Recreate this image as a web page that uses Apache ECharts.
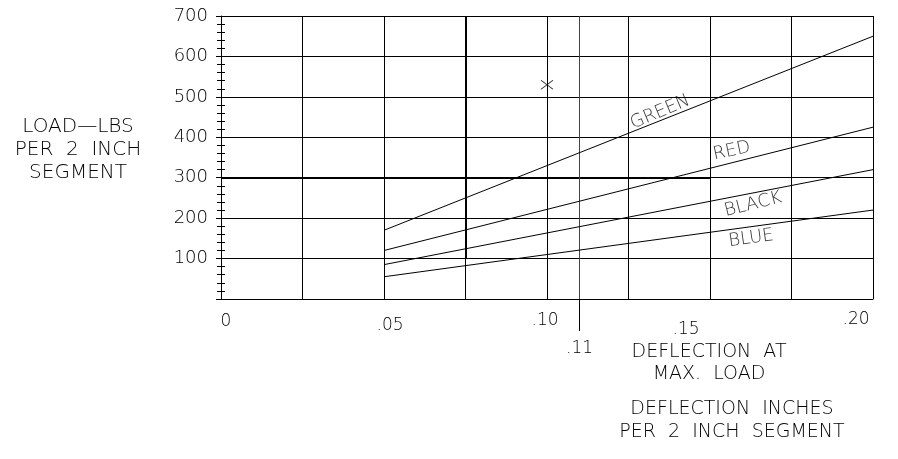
<!DOCTYPE html>
<html><head><meta charset="utf-8">
<script src="https://cdn.jsdelivr.net/npm/echarts@6/dist/echarts.min.js"></script>
<style>html,body{margin:0;padding:0;background:#fff}#c{width:898px;height:459px}</style>
</head><body><div id="c"></div>
<script>
// ---- data ----
const lineNames = ['GREEN', 'RED', 'BLACK', 'BLUE'];
const xRange = [0.05, 0.20];
const greenLoad = [170, 650];
const redLoad = [120, 425];
const blackLoad = [85, 320];
const blueLoad = [55, 220];
const markerPoint = [0.10, 530];
const deflectionAtMax = 0.11;
const xTickLabels = { 0: '0', 50: '.05', 100: '.10', 150: '.15', 200: '.20' };
const yTickLabels = ['100', '200', '300', '400', '500', '600', '700'];
const nameAnchors = [[0.1347, 462], [0.1567, 366], [0.1632, 234], [0.1626, 150]];

const FONT = 'DejaVu Sans';
const FW = 200;
const black = '#000';

function pairs(vals) { return [[xRange[0], vals[0]], [xRange[1], vals[1]]]; }
const loads = [greenLoad, redLoad, blackLoad, blueLoad];
const nameAngles = [23, 12, 14, 8];

const chart = echarts.init(document.getElementById('c'), null, { renderer: 'canvas' });

const lineSeries = loads.map((v, i) => ({
  name: lineNames[i], type: 'line', data: pairs(v), symbol: 'none',
  lineStyle: { color: black, width: 1 }, silent: true, animation: false, z: 5
}));

function rs(pad) { return { fontFamily: FONT, fontWeight: FW, fontSize: 17, color: black, padding: pad }; }

const option = {
  animation: false,
  backgroundColor: '#fff',
  grid: { left: 221, right: 25, top: 16, bottom: 160, containLabel: false },
  xAxis: [{
    type: 'value', min: 0, max: 0.2, interval: 0.025,
    axisLine: { show: true, onZero: false, lineStyle: { color: black, width: 1 } },
    axisTick: { show: false },
    splitLine: { show: true, lineStyle: { color: black, width: 1 } },
    axisLabel: {
      margin: 12, fontFamily: FONT, fontWeight: FW, fontSize: 17, color: black,
      formatter: v => {
        const k = Math.round(v * 1000);
        return xTickLabels[k] !== undefined ? '{l' + k + '|' + xTickLabels[k] + '}' : '';
      },
      rich: {
        l0: rs([2, 0, 0, 10]),
        l50: rs([6, 0, 0, 12]),
        l100: rs([1, 4, 0, 0]),
        l150: rs([10, 48, 0, 0]),
        l200: rs([0, 34, 0, 0])
      }
    }
  }, {
    type: 'value', min: 0, max: 0.2, position: 'bottom',
    axisLine: { show: false },
    splitLine: { show: false },
    axisTick: { show: true, customValues: [deflectionAtMax], length: 32, lineStyle: { color: black, width: 1 } },
    axisLabel: { show: true, customValues: [deflectionAtMax], formatter: () => '.11', margin: 41, fontFamily: FONT, fontWeight: FW, fontSize: 17, color: black }
  }],
  yAxis: [{
    type: 'value', min: 0, max: 700, interval: 100,
    axisLine: { show: true, onZero: false, lineStyle: { color: black, width: 1 } },
    axisTick: { show: true, length: 5, lineStyle: { color: black } },
    minorTick: { show: true, splitNumber: 5, length: 4, lineStyle: { color: black } },
    splitLine: { show: true, lineStyle: { color: black, width: 1 } },
    axisLabel: {
      margin: 13, fontFamily: FONT, fontWeight: FW, fontSize: 18, color: black,
      formatter: v => { const s = String(Math.round(v)); return yTickLabels.includes(s) ? s : ''; }
    }
  }, {
    type: 'value', min: 0, max: 700, interval: 100, position: 'left',
    axisLine: { show: false },
    axisTick: { show: true, inside: true, length: 4, lineStyle: { color: black } },
    minorTick: { show: true, splitNumber: 5, length: 4, lineStyle: { color: black } },
    splitLine: { show: false },
    axisLabel: { show: false }
  }],
  series: [
    ...lineSeries,
    {
      type: 'line', data: [], silent: true, clip: false,
      markLine: {
        silent: true, symbol: 'none', animation: false,
        label: { show: false },
        data: [
          [{ coord: [0, 300], lineStyle: { color: black, width: 2, type: 'solid' } }, { coord: [0.15, 300] }],
          [{ coord: [0.075, 100], lineStyle: { color: black, width: 2, type: 'solid' } }, { coord: [0.075, 700] }],
          [{ coord: [deflectionAtMax, 0], lineStyle: { color: '#444', width: 1, type: 'solid' } }, { coord: [deflectionAtMax, 700] }]
        ]
      }
    },
    {
      type: 'scatter', data: [markerPoint], silent: true,
      symbol: 'path://M0,0L10,8M10,0L0,8', symbolSize: [12, 9],
      itemStyle: { color: 'none', borderColor: black, borderWidth: 1 }, z: 6
    },
    {
      type: 'scatter', silent: true, symbolSize: 0, z: 7,
      data: nameAnchors.map((p, i) => ({
        value: p,
        label: { show: true, position: 'inside', rotate: nameAngles[i], formatter: lineNames[i],
                 fontFamily: FONT, fontWeight: FW, fontSize: 18, color: black }
      }))
    }
  ],
  graphic: [
    { type: 'text', x: 78, y: 150, style: { text: 'LOAD—LBS\nPER  2  INCH\nSEGMENT', align: 'center', verticalAlign: 'middle', lineHeight: 23, font: '200 20px "DejaVu Sans"', fill: black } },
    { type: 'text', x: 709, y: 363, style: { text: 'DEFLECTION  AT\nMAX.  LOAD', align: 'center', verticalAlign: 'middle', lineHeight: 22, font: '200 19px "DejaVu Sans"', fill: black } },
    { type: 'text', x: 732, y: 421, style: { text: 'DEFLECTION  INCHES\nPER  2  INCH  SEGMENT', align: 'center', verticalAlign: 'middle', lineHeight: 23, font: '200 19px "DejaVu Sans"', fill: black } }
  ]
};
chart.setOption(option);
</script>
</body></html>
